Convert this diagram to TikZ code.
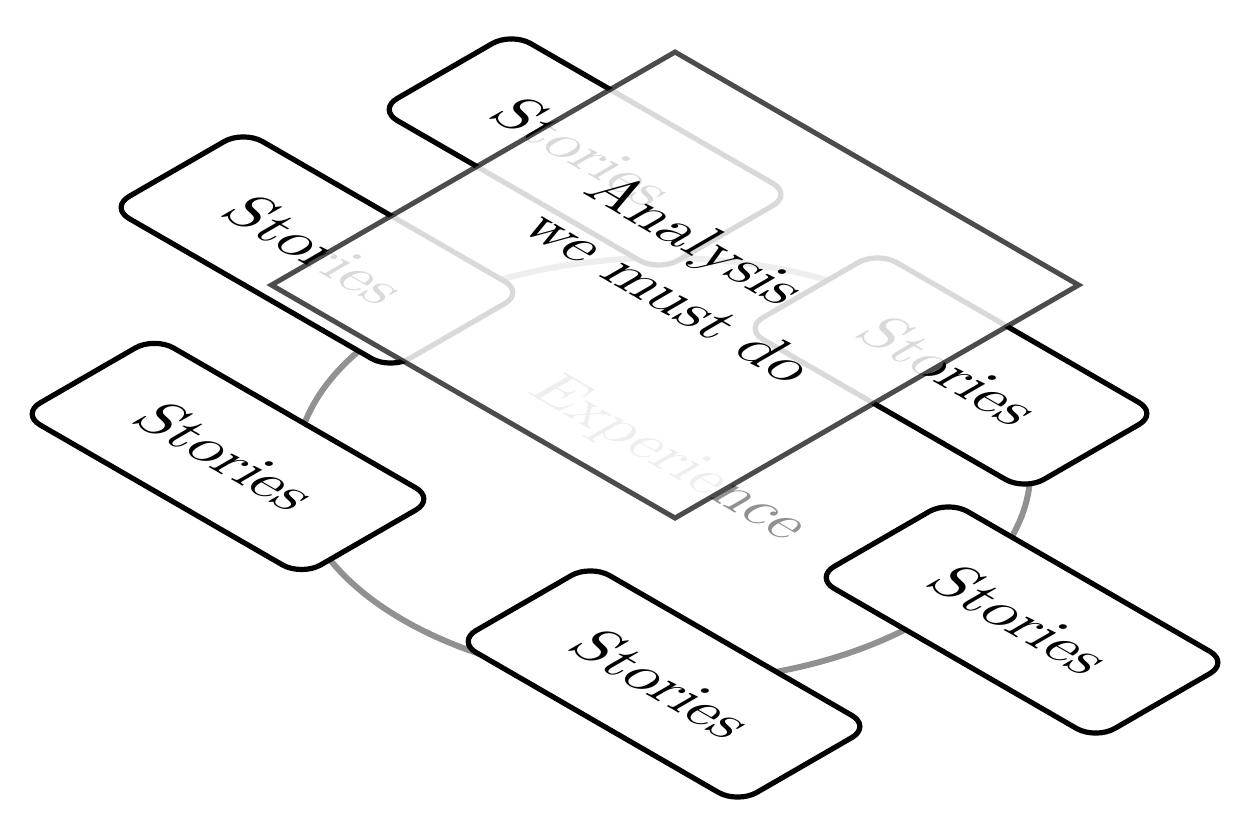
\documentclass[tikz,border=0pt]{standalone}
\usepackage{fontspec}
\setmainfont{lmroman10-regular.otf}
\definecolor{exgray}{RGB}{145,145,145}
\begin{document}
\begin{tikzpicture}[x=0.5pt,y=0.5pt,
  bigfont/.style={font=\fontsize{31}{36.5}\selectfont},
  storybox/.style={draw=black, line width=2.6pt, fill=white, rounded corners=11pt,
    minimum width=162pt, minimum height=77pt, inner sep=0pt, transform shape, bigfont},
  ring/.style={draw=exgray, line width=3pt},
  plane/.style={draw=black, draw opacity=0.7, line width=2.5pt, fill=white, fill opacity=0.85}]
\useasboundingbox (0,0) rectangle (1240,824);
\begin{scope}[shift={(663,354)}, cm={0.866,-0.5,0.866,0.5,(0,0)}]
  \draw[ring] (0,0) circle[radius=300];
  \node[transform shape, bigfont, text=exgray] (exp) at (-8,14) {Experience};
  \node[storybox] (s1) at (-264.7,-237.6) {Stories};
  \node[storybox] (s2) at (214.6,-213.4) {Stories};
  \node[storybox] (s3) at (357.3,57.3) {Stories};
  \node[storybox] (s4) at (67.3,265.3) {Stories};
  \node[storybox] (s5) at (-419.8,20.2) {Stories};
  \node[storybox] (s6) at (-363,273) {Stories};
  \draw[plane] (-411,-41.1) rectangle (55,424.9);
  \node[transform shape, bigfont, align=left, text=black] (ana) at (-169,215.4) {Analysis\\we must do};
\end{scope}
\end{tikzpicture}
\end{document}
